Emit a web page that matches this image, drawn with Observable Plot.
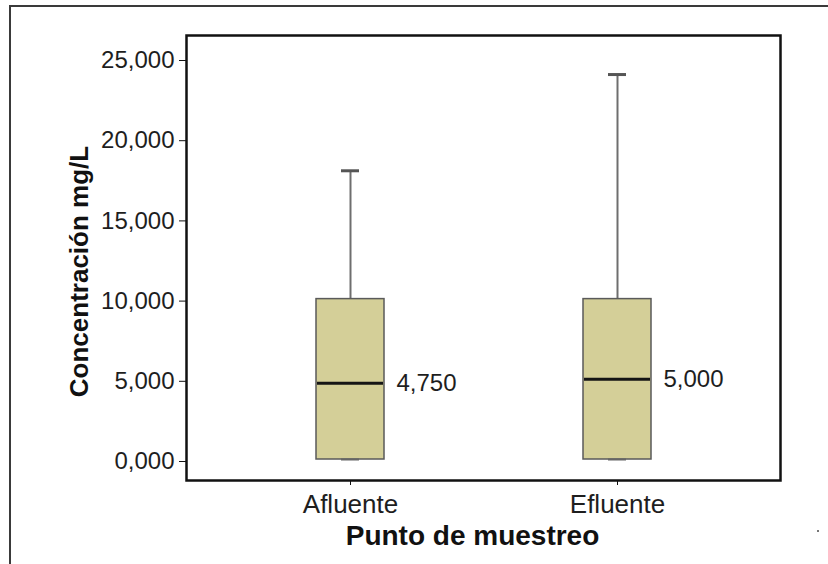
<!DOCTYPE html>
<html>
<head>
<meta charset="utf-8">
<script src="https://cdn.jsdelivr.net/npm/d3@7"></script>
<script src="https://cdn.jsdelivr.net/npm/@observablehq/plot@0.6"></script>
<style>
  html, body { margin: 0; padding: 0; background: #fff; }
  #wrap { position: relative; width: 828px; height: 564px; overflow: hidden; }
  #border { position: absolute; left: 9px; top: 5px; width: 840px; height: 580px;
            border-left: 2px solid #3a3a3a; border-top: 2px solid #3a3a3a; }
  #dot { position: absolute; left: 817px; top: 530px; width: 2px; height: 2px; background: #777; }
  #chart { position: absolute; left: 0; top: 0; }
</style>
</head>
<body>
<div id="wrap">
  <div id="border"></div>
  <div id="dot"></div>
  <div id="chart"></div>
</div>
<script>
const categories = ["Afluente", "Efluente"];
const minVals = [0, 0];
const q1Vals = [0, 0];
const medians = [4.75, 5.0];
const q3Vals = [10, 10];
const maxVals = [18, 24];
const yTicks = [0, 5, 10, 15, 20, 25];
const yTitle = "Concentración mg/L";
const xTitle = "Punto de muestreo";

const data = categories.map((c, i) => ({
  cat: c, min: minVals[i], q1: q1Vals[i], median: medians[i], q3: q3Vals[i], max: maxVals[i]
}));

const fmt = v => d3.format(".3f")(v).replace(".", ",");
const font = "'Liberation Sans', Arial, sans-serif";

const chart = Plot.plot({
  width: 828,
  height: 564,
  marginLeft: 186,
  marginRight: 48,
  marginTop: 35,
  marginBottom: 84,
  style: { fontFamily: font, background: "transparent", color: "#1e1e1e", overflow: "visible" },
  x: { type: "band", domain: categories, paddingInner: 0.746, paddingOuter: 0.4825, axis: null },
  y: { domain: [-1.309, 26.434], axis: null },
  marks: [
    Plot.axisY({ ticks: yTicks, tickFormat: fmt, tickSize: 7, tickPadding: 5, fontSize: 24, dy: 2, label: null, stroke: "#111" }),
    Plot.axisX({ tickSize: 5, tickPadding: 9, fontSize: 26, label: null, stroke: "#111" }),
    Plot.ruleX(data, { x: "cat", y1: "q3", y2: "max", stroke: "#6e6e6e", strokeWidth: 2 }),
    Plot.barY(data, { x: "cat", y1: "q1", y2: "q3", fill: "#d4cf98", stroke: "#5a5a5a", strokeWidth: 1.5 }),
    Plot.tickY(data, { x: "cat", y: "median", stroke: "#151515", strokeWidth: 3, insetLeft: 1, insetRight: 1 }),
    Plot.tickY(data, { x: "cat", y: "max", stroke: "#555", strokeWidth: 3, inset: 25 }),
    Plot.tickY(data, { x: "cat", y: "min", stroke: "#666", strokeWidth: 2, inset: 25 }),
    Plot.text(data, { x: "cat", y: "median", text: d => fmt(d.median), textAnchor: "start", dx: 46, fontSize: 24, fill: "#1e1e1e" }),
    Plot.frame({ stroke: "#111", strokeWidth: 2.5 }),
    Plot.text([yTitle], { text: d => d, frameAnchor: "left", rotate: -90, textAnchor: "middle", lineAnchor: "middle", dx: -107, dy: 13.5, fontWeight: "bold", fontSize: 26, fill: "#111" }),
    Plot.text([xTitle], { text: d => d, frameAnchor: "bottom", textAnchor: "middle", lineAnchor: "middle", dx: -11, dy: 56, fontWeight: "bold", fontSize: 28, fill: "#111" })
  ]
});
document.getElementById("chart").appendChild(chart);
</script>
</body>
</html>
